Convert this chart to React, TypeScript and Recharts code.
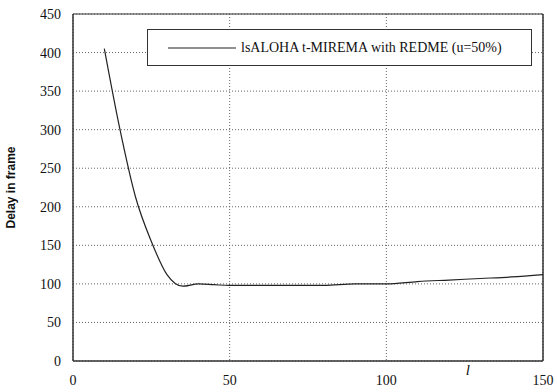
import React from 'react';
import {
  CartesianGrid,
  Line,
  LineChart,
  ReferenceLine,
  XAxis,
  YAxis,
} from 'recharts';

// x values (l) and delay in frames
const xValues = [10, 15, 20, 25, 30, 35, 40, 45, 50, 60, 70, 80, 90, 100, 110, 120, 130, 140, 150];
const delayValues = [405, 300, 212, 155, 112, 97, 100, 99, 98, 98, 98, 98, 100, 100, 103, 105, 107, 109, 112];
const xTicks = [0, 50, 100, 150];
const yTicks = [0, 50, 100, 150, 200, 250, 300, 350, 400, 450];
const seriesName = 'lsALOHA t-MIREMA with REDME (u=50%)';

const data = xValues.map((x, i) => ({ x, delay: delayValues[i] }));

const serif = '"Liberation Serif", "Times New Roman", serif';

const LegendBox = () => (
  <div
    style={{
      position: 'absolute',
      left: 147,
      top: 29,
      width: 385,
      height: 37,
      border: '1px solid #333',
      background: '#fff',
      display: 'flex',
      alignItems: 'center',
      fontFamily: serif,
      fontSize: 14,
      color: '#111',
      boxSizing: 'border-box',
    }}
  >
    <svg width={90} height={10} style={{ flexShrink: 0 }}>
      <line x1={20} y1={5} x2={88} y2={5} stroke="#222" strokeWidth={1.2} />
    </svg>
    <span style={{ marginLeft: 3, whiteSpace: 'nowrap' }}>{seriesName}</span>
  </div>
);

const App: React.FC = () => {
  return (
    <div style={{ position: 'absolute', left: 0, top: 0, width: 557, height: 392, background: '#fff' }}>
      <LineChart
        width={557}
        height={392}
        data={data}
        margin={{ top: 14, right: 14, bottom: 6, left: 13 }}
      >
        <CartesianGrid stroke="#666" strokeDasharray="1 2" />
        <XAxis
          dataKey="x"
          type="number"
          domain={[0, 150]}
          ticks={xTicks}
          tickLine={false}
          axisLine={{ stroke: '#333', strokeWidth: 1.5 }}
          height={25}
          tick={{ fill: '#111', fontSize: 14, fontFamily: serif }}
          tickMargin={8}
        />
        <YAxis
          type="number"
          domain={[0, 450]}
          ticks={yTicks}
          tickLine={false}
          axisLine={{ stroke: '#333', strokeWidth: 1.5 }}
          width={60}
          tick={{ fill: '#111', fontSize: 14, fontFamily: serif }}
          tickMargin={6}
          label={{
            value: 'Delay in frame',
            angle: -90,
            position: 'insideLeft',
            offset: -2,
            style: {
              fill: '#111',
              fontSize: 12,
              fontWeight: 'bold',
              fontFamily: '"Liberation Sans", Arial, sans-serif',
              textAnchor: 'middle',
            },
          }}
        />
        <ReferenceLine y={450} stroke="#333" strokeWidth={1.2} />
        <ReferenceLine x={150} stroke="#333" strokeWidth={1.5} />
        <ReferenceLine
          x={126}
          stroke="none"
          label={{
            value: 'l',
            position: 'insideBottom',
            offset: -14,
            style: { fill: '#111', fontSize: 15, fontStyle: 'italic', fontFamily: serif },
          }}
        />
        <Line
          type="monotone"
          dataKey="delay"
          name={seriesName}
          stroke="#222"
          strokeWidth={1.2}
          dot={false}
          isAnimationActive={false}
        />
      </LineChart>
      <LegendBox />
    </div>
  );
};

export default App;
